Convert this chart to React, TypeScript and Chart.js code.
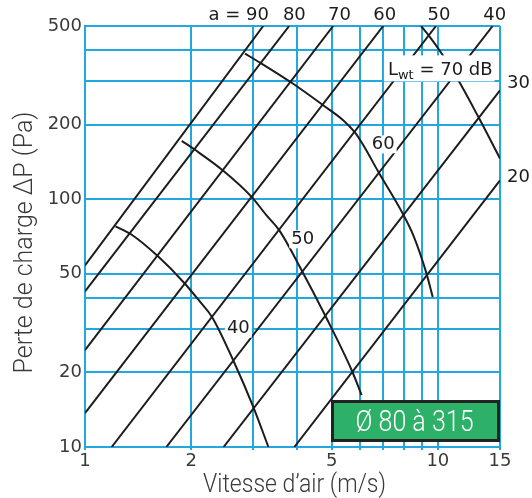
import React, { useEffect, useRef } from 'react';
import { Chart, registerables } from 'chart.js';
Chart.register(...registerables);

// Axis grid values and tick labels
const xGrid = [1, 2, 3, 4, 5, 6, 7, 8, 9, 10, 15];
const xTickLabels = [1, 2, 5, 10, 15];
const yGrid = [10, 20, 30, 40, 50, 100, 200, 300, 400, 500];
const yTickLabels = [10, 20, 50, 100, 200, 500];

// Straight "a" lines (two end points each)
const lineNames = ['90', '80', '70', '60', '50', '40', '30', '20'];
const lineStartV = [1, 1, 1, 1, 1.19, 1.70, 2.47, 3.92];
const lineStartP = [54.1, 42.5, 24.6, 13.7, 10, 10, 10, 10];
const lineEndV = [3.20, 3.79, 5.05, 7.00, 9.88, 14.3, 15, 15];
const lineEndP = [500, 500, 500, 500, 500, 500, 275, 119];

// Sound power curves Lwt
const curve40V = [1.22, 1.35, 1.61, 1.92, 2.12, 2.29, 2.63, 3.00, 3.31];
const curve40P = [77.7, 72.2, 58.8, 45.6, 38.5, 33.5, 22.4, 14.5, 10];
const curve50V = [1.88, 2.04, 2.47, 2.97, 3.27, 3.55, 4.11, 4.79, 5.70, 6.08];
const curve50P = [172, 159, 130, 102, 86, 75, 51.7, 34.0, 20.4, 16.2];
const curve60V = [2.84, 3.15, 3.88, 4.74, 5.40, 5.82, 6.15, 6.78, 7.95, 8.52, 9.26, 9.67];
const curve60P = [387, 354, 293, 239, 208, 186, 165, 129, 87.5, 71.5, 50.8, 40.3];
const curve70V = [8.96, 9.50, 10.25, 11.43, 13.02, 15];
const curve70P = [500, 451, 387, 302, 215, 146];

// Annotation texts and anchors (in data units)
const topLabelText = ['a = 90', '80', '70', '60', '50', '40'];
const topLabelV = [3.32, 3.92, 5.26, 7.07, 10.07, 14.49];
const rightLabelText = ['30', '20'];
const rightLabelP = [293.6, 122.0];
const curveLabelText = ['60', '50', '40'];
const curveLabelV = [7.0, 4.14, 2.72];
const curveLabelP = [166.5, 68.9, 30.0];
const lwtLabelV = 7.22;
const lwtLabelP = 316;
const boxText = 'Ø 80 à 315';
const xTitle = 'Vitesse d’air (m/s)';
const yTitle = 'Perte de charge ΔP (Pa)';

const BLUE = '#23a7df';
const INK = '#1c1c1c';
const TEXT = '#3a3a3a';
const GREEN = '#2db067';
const NUM_FONT = '"DejaVu Sans", "Liberation Sans", sans-serif';
const TITLE_FONT = 'Roboto, "Liberation Sans", sans-serif';

function fitText(ctx: CanvasRenderingContext2D, text: string, cx: number, cy: number, width: number, rotate = false) {
  const w = ctx.measureText(text).width;
  const sx = width / w;
  ctx.save();
  ctx.translate(cx, cy);
  if (rotate) ctx.rotate(-Math.PI / 2);
  ctx.scale(sx, 1);
  ctx.textAlign = 'center';
  ctx.fillText(text, 0, 0);
  ctx.restore();
}

const overlay = {
  id: 'overlay',
  afterDatasetsDraw(chart: any) {
    const { ctx, chartArea: a, scales } = chart;
    const x = scales.x;
    const y = scales.y;
    ctx.save();

    // top labels
    ctx.font = `18px ${NUM_FONT}`;
    ctx.fillStyle = INK;
    ctx.textBaseline = 'middle';
    topLabelText.forEach((t, i) => {
      ctx.textAlign = i === 0 ? 'right' : 'center';
      ctx.fillText(t, x.getPixelForValue(topLabelV[i]), a.top - 11);
    });
    // right labels
    ctx.textAlign = 'left';
    rightLabelText.forEach((t, i) => {
      ctx.fillText(t, a.right + 7, y.getPixelForValue(rightLabelP[i]));
    });

    // curve labels with white background
    ctx.textAlign = 'center';
    curveLabelText.forEach((t, i) => {
      const px = x.getPixelForValue(curveLabelV[i]);
      const py = y.getPixelForValue(curveLabelP[i]);
      const w = ctx.measureText(t).width;
      ctx.fillStyle = '#ffffff';
      ctx.fillRect(px - w / 2 - 2, py - 9, w + 4, 18);
      ctx.fillStyle = INK;
      ctx.fillText(t, px, py);
    });

    // Lwt = 70 dB label
    const lx = x.getPixelForValue(lwtLabelV);
    const ly = y.getPixelForValue(lwtLabelP);
    ctx.textBaseline = 'alphabetic';
    ctx.textAlign = 'left';
    ctx.font = `18px ${NUM_FONT}`;
    const wL = ctx.measureText('L').width;
    const wRest = ctx.measureText(' = 70 dB').width;
    ctx.font = `13px ${NUM_FONT}`;
    const wSub = ctx.measureText('wt').width;
    const total = wL + wSub + wRest;
    ctx.fillStyle = '#ffffff';
    ctx.fillRect(lx - 4, ly - 20, Math.min(total + 6, a.right - 1 - (lx - 4)), 26);
    ctx.fillStyle = INK;
    ctx.font = `18px ${NUM_FONT}`;
    ctx.fillText('L', lx, ly);
    ctx.font = `13px ${NUM_FONT}`;
    ctx.fillText('wt', lx + wL, ly + 4);
    ctx.font = `18px ${NUM_FONT}`;
    ctx.fillText(' = 70 dB', lx + wL + wSub, ly);

    // green box
    const bw = 169, bh = 42;
    const bx = a.right - bw;
    const by = a.bottom - 5 - bh;
    ctx.fillStyle = GREEN;
    ctx.fillRect(bx, by, bw, bh);
    ctx.strokeStyle = '#222222';
    ctx.lineWidth = 3;
    ctx.strokeRect(bx + 1.5, by + 1.5, bw - 3, bh - 3);
    ctx.fillStyle = '#ffffff';
    ctx.font = `300 29px ${TITLE_FONT}`;
    ctx.textBaseline = 'alphabetic';
    fitText(ctx, boxText, bx + bw / 2 - 1, by + bh - 11, 118);

    ctx.restore();
  },
  afterDraw(chart: any) {
    const { ctx, chartArea: a } = chart;
    ctx.save();
    ctx.fillStyle = TEXT;
    ctx.font = `300 25px ${TITLE_FONT}`;
    ctx.textBaseline = 'alphabetic';
    fitText(ctx, xTitle, (a.left + a.right) / 2 + 2, 492, 183);
    fitText(ctx, yTitle, 32, (a.top + a.bottom) / 2 + 6, 262, true);
    ctx.restore();
  },
};

export default function App() {
  const ref = useRef<HTMLCanvasElement | null>(null);
  useEffect(() => {
    if (!ref.current) return;
    const common = {
      showLine: true,
      borderColor: INK,
      borderWidth: 2,
      pointRadius: 0,
      pointHoverRadius: 0,
      fill: false,
    };
    const datasets: any[] = lineNames.map((n, i) => ({
      ...common,
      label: 'a = ' + n,
      data: [
        { x: lineStartV[i], y: lineStartP[i] },
        { x: lineEndV[i], y: lineEndP[i] },
      ],
    }));
    const curves = [
      { name: 'Lwt 40 dB', v: curve40V, p: curve40P },
      { name: 'Lwt 50 dB', v: curve50V, p: curve50P },
      { name: 'Lwt 60 dB', v: curve60V, p: curve60P },
      { name: 'Lwt 70 dB', v: curve70V, p: curve70P },
    ];
    curves.forEach((c) => {
      datasets.push({
        ...common,
        label: c.name,
        cubicInterpolationMode: 'monotone',
        data: c.v.map((v, i) => ({ x: v, y: c.p[i] })),
      });
    });

    const chart = new Chart(ref.current, {
      type: 'scatter',
      data: { datasets },
      options: {
        animation: false,
        responsive: false,
        devicePixelRatio: 1,
        layout: { padding: { left: 0, right: 32, top: 26, bottom: 0 } },
        plugins: { legend: { display: false }, tooltip: { enabled: false } },
        scales: {
          x: {
            type: 'logarithmic',
            min: 1,
            max: 15,
            afterBuildTicks: (s: any) => {
              s.ticks = xGrid.map((v) => ({ value: v }));
            },
            afterFit: (s: any) => {
              s.height = 51;
            },
            ticks: {
              autoSkip: false,
              maxRotation: 0,
              padding: 1,
              color: TEXT,
              font: { family: NUM_FONT, size: 18 },
              callback: (v: any) => (xTickLabels.includes(Number(v)) ? String(v) : ''),
            },
            grid: { color: BLUE, lineWidth: 2, tickLength: 3, tickColor: BLUE },
            border: { color: BLUE, width: 2 },
          },
          y: {
            type: 'logarithmic',
            min: 10,
            max: 500,
            afterBuildTicks: (s: any) => {
              s.ticks = yGrid.map((v) => ({ value: v }));
            },
            afterFit: (s: any) => {
              s.width = 85;
            },
            ticks: {
              autoSkip: false,
              padding: 3,
              color: TEXT,
              font: { family: NUM_FONT, size: 18 },
              callback: (v: any) => (yTickLabels.includes(Number(v)) ? String(v) : ''),
            },
            grid: { color: BLUE, lineWidth: 2, drawTicks: false },
            border: { color: BLUE, width: 2 },
          },
        },
      },
      plugins: [overlay],
    });
    return () => chart.destroy();
  }, []);

  return (
    <div style={{ position: 'absolute', left: 0, top: 0, width: 532, height: 498, background: '#fff' }}>
      <canvas ref={ref} width={532} height={498} style={{ width: 532, height: 498, display: 'block' }} />
    </div>
  );
}
